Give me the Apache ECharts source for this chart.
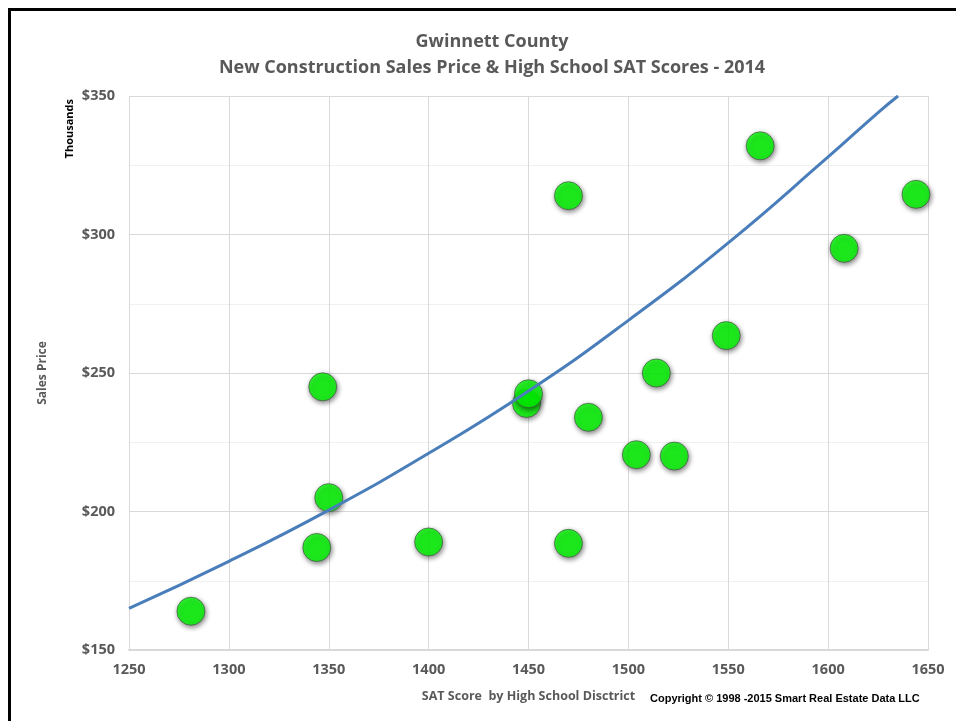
<!DOCTYPE html>
<html>
<head>
<meta charset="utf-8">
<script src="https://cdn.jsdelivr.net/npm/echarts@6/dist/echarts.min.js"></script>
<style>
html,body{margin:0;padding:0;background:#fff;}
#chart{width:956px;height:721px;}
</style>
</head>
<body>
<div id="chart"></div>
<script>
const titleLines = ['Gwinnett County', 'New Construction Sales Price & High School SAT Scores - 2014'];
const satScores = [1281, 1344, 1347, 1350, 1400, 1470, 1470, 1449, 1450, 1480, 1504, 1514, 1549, 1523, 1566, 1608, 1644];
const salesPrices = [164, 187, 245, 205, 189, 188.5, 314, 239, 242.5, 234, 220.5, 250, 263.5, 220, 332, 295, 314.5];
const trendX = [1250, 1300, 1350, 1400, 1450, 1500, 1550, 1600, 1625, 1635];
const trendY = [165, 182, 200.5, 221, 243.5, 269, 297, 328, 344, 350];
const xTicks = [1250, 1300, 1350, 1400, 1450, 1500, 1550, 1600, 1650];
const yTicks = [150, 200, 250, 300, 350];

const chart = echarts.init(document.getElementById('chart'));
const font = '"Open Sans", sans-serif';
chart.setOption({
  backgroundColor: '#fff',
  animation: false,
  title: {
    text: titleLines[0] + '\n' + titleLines[1],
    left: 487, top: 24, textAlign: 'center',
    textStyle: {fontFamily: font, fontSize: 18, fontWeight: 'bold', color: '#595959', lineHeight: 26}
  },
  graphic: [
    {type: 'rect', shape: {x: 8, y: 8, width: 3, height: 713}, style: {fill: '#000'}, silent: true},
    {type: 'rect', shape: {x: 8, y: 8, width: 948, height: 3}, style: {fill: '#000'}, silent: true},
    {type: 'text', left: 64, top: 99, rotation: Math.PI / 2,
      style: {text: 'Thousands', fontFamily: font, fontSize: 11, fontWeight: 'bold', fill: '#000'}},
    {type: 'text', left: 650, top: 693,
      style: {text: 'Copyright \u00a9 1998 -2015 Smart Real Estate Data LLC', fontFamily: 'Liberation Sans, Arial, sans-serif', fontSize: 11, fontWeight: 'bold', fill: '#000'}}
  ],
  grid: {left: 129, right: 28, top: 96, bottom: 71},
  xAxis: {
    type: 'value', min: 1250, max: 1650, interval: 50,
    name: 'SAT Score  by High School Disctrict', nameLocation: 'middle', nameGap: 40,
    nameTextStyle: {fontFamily: font, fontSize: 12.5, fontWeight: 'bold', color: '#595959'},
    axisLine: {show: true, lineStyle: {color: '#d9d9d9', width: 2}},
    axisTick: {show: false},
    axisLabel: {fontFamily: font, fontSize: 14.5, fontWeight: 'bold', color: '#595959', margin: 12,
      formatter: v => xTicks.includes(v) ? String(v) : ''},
    splitLine: {show: true, lineStyle: {color: '#d9d9d9', width: 1}}
  },
  yAxis: {
    type: 'value', min: 150, max: 350, interval: 50,
    name: 'Sales Price', nameLocation: 'middle', nameGap: 80, nameRotate: 90,
    nameTextStyle: {fontFamily: font, fontSize: 12, fontWeight: 'bold', color: '#595959'},
    axisLine: {show: false},
    axisTick: {show: false},
    axisLabel: {fontFamily: font, fontSize: 14.5, fontWeight: 'bold', color: '#595959', margin: 14,
      formatter: v => yTicks.includes(v) ? '$' + v : ''},
    splitLine: {show: true, lineStyle: {color: '#d9d9d9', width: 1}},
    minorTick: {show: false, splitNumber: 2},
    minorSplitLine: {show: true, lineStyle: {color: '#f0f0f0', width: 1}}
  },
  series: [
    {
      type: 'line', data: trendX.map((x, i) => [x, trendY[i]]), smooth: true,
      showSymbol: false, lineStyle: {color: '#4a7ebb', width: 3}, z: 3
    },
    {
      type: 'scatter', data: satScores.map((x, i) => [x, salesPrices[i]]),
      symbol: 'circle', symbolSize: 28,
      itemStyle: {color: '#00ff00', borderColor: '#444', borderWidth: 0.8,
        shadowBlur: 5, shadowColor: 'rgba(0,0,0,0.6)', shadowOffsetX: 1, shadowOffsetY: 2},
      z: 2
    }
  ]
});
</script>
</body>
</html>
